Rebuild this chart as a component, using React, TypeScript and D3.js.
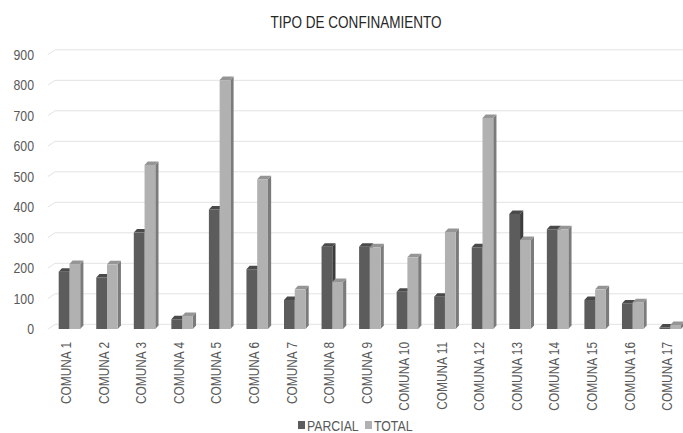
import React from "react";
import * as d3 from "d3";

const categories = [
  "COMUNA 1", "COMUNA 2", "COMUNA 3", "COMUNA 4", "COMUNA 5", "COMUNA 6",
  "COMUNA 7", "COMUNA 8", "COMUNA 9", "COMUNA 10", "COMUNA 11", "COMUNA 12",
  "COMUNA 13", "COMUNA 14", "COMUNA 15", "COMUNA 16", "COMUNA 17",
];
const parcial = [188, 169, 316, 32, 392, 196, 95, 270, 270, 122, 106, 268, 377, 327, 95, 84, 5];
const total = [213, 212, 538, 43, 816, 491, 130, 154, 268, 235, 318, 692, 292, 327, 130, 88, 13];
const seriesNames = ["PARCIAL", "TOTAL"];
const yTicks = [0, 100, 200, 300, 400, 500, 600, 700, 800, 900];

const W = 683;
const H = 433;
const FONT = "'Liberation Sans', Arial, sans-serif";

const seriesColors = [
  { front: "#5c5c5c", side: "#3c3c3c", top: "#4a4a4a" },
  { front: "#b1b1b1", side: "#7b7b7b", top: "#959595" },
];

function NText(props: {
  x: number; y: number; s?: number; rotate?: number; size: number; fill: string;
  anchor?: string; baseline?: string; children: React.ReactNode;
}) {
  const { x, y, s = 0.82, rotate = 0, size, fill, anchor = "start", baseline, children } = props;
  return (
    <text
      transform={`translate(${x},${y}) rotate(${rotate}) scale(${s},1)`}
      textAnchor={anchor}
      dominantBaseline={baseline}
      fontFamily={FONT}
      fontSize={size}
      fill={fill}
    >
      {children}
    </text>
  );
}

export default function App() {
  const floorY = 329;
  const y = d3.scaleLinear().domain([0, 900]).range([floorY, floorY - 274.5]);
  const x = d3.scaleBand<string>().domain(categories).range([50.7, 50.7 + 17 * 37.55]).paddingInner(0).paddingOuter(0);
  const sub = d3.scaleBand<string>().domain(seriesNames).range([0, 21.5]).padding(0);
  const wallDx = 7;
  const wallDy = -4.7;
  const barDx = 3.2;
  const barDy = -3.5;
  const gridX0 = 48;
  const gridX1 = 683;

  const data = [parcial, total];

  return (
    <svg width={W} height={H} style={{ position: "absolute", left: 0, top: 0, background: "#fff" }}>
      <rect x={0} y={0} width={W} height={H} fill="#fff" />
      <NText x={356} y={28} size={16.5} fill="#262626" anchor="middle">
        TIPO DE CONFINAMIENTO
      </NText>
      {yTicks.map((t) => (
        <g key={t}>
          <polyline
            points={`${gridX0},${y(t)} ${gridX0 + wallDx},${y(t) + wallDy} ${gridX1},${y(t) + wallDy}`}
            fill="none"
            stroke="#e3e3e3"
            strokeWidth={1}
          />
          <NText x={34} y={y(t) + 5} s={0.88} size={14} fill="#595959" anchor="end">
            {t}
          </NText>
        </g>
      ))}
      {categories.map((c, i) => {
        const cx = (x(c) as number) + 18.75;
        const left = cx - 10.75;
        return (
          <g key={c}>
            {seriesNames.map((s, si) => {
              const v = data[si][i];
              const bx = left + (sub(s) as number);
              const bw = sub.bandwidth();
              const top = y(v);
              const col = seriesColors[si];
              return (
                <g key={s}>
                  <polygon
                    points={`${bx + bw},${top} ${bx + bw + barDx},${top + barDy} ${bx + bw + barDx},${floorY + barDy} ${bx + bw},${floorY}`}
                    fill={col.side}
                  />
                  <polygon
                    points={`${bx},${top} ${bx + barDx},${top + barDy} ${bx + bw + barDx},${top + barDy} ${bx + bw},${top}`}
                    fill={col.top}
                  />
                  <rect x={bx} y={top} width={bw} height={floorY - top} fill={col.front} />
                </g>
              );
            })}
            <NText
              x={cx - 2}
              y={342}
              rotate={-90}
              s={0.82}
              size={14.5}
              fill="#595959"
              anchor="end"
              baseline="middle"
            >
              {c}
            </NText>
          </g>
        );
      })}
      <g>
        <rect x={298} y={421} width={7} height={8} fill={seriesColors[0].front} />
        <NText x={307} y={431} size={15} fill="#595959">PARCIAL</NText>
        <rect x={365} y={421} width={7} height={8} fill={seriesColors[1].front} />
        <NText x={374} y={431} size={15} fill="#595959">TOTAL</NText>
      </g>
    </svg>
  );
}
